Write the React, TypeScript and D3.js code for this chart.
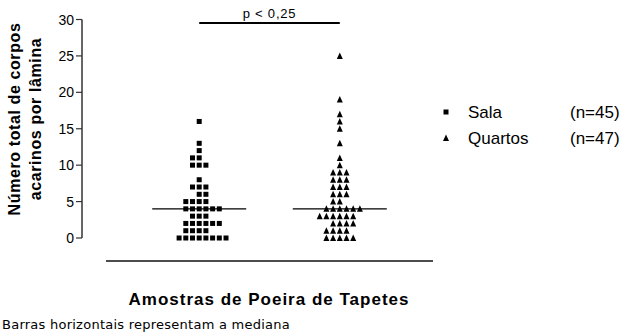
import React from 'react';
import * as d3 from 'd3';

// counts of mite bodies per slide
const salaValues = [
  0, 0, 0, 0, 0, 0, 0, 0,
  1, 1, 1, 1,
  2, 2, 2, 2, 2, 2,
  3, 3, 3,
  4, 4, 4, 4, 4, 4,
  5, 5, 5, 5,
  6, 6,
  7, 7, 7,
  8,
  10, 10, 10,
  11, 11,
  12,
  13,
  16,
];
const quartosValues = [
  0, 0, 0, 0, 0,
  1, 1, 1, 1,
  2, 2, 2, 2,
  3, 3, 3, 3, 3, 3,
  4, 4, 4, 4, 4, 4,
  5, 5,
  6, 6, 6,
  7, 7, 7,
  8, 8, 8,
  9, 9, 9,
  10, 11, 13, 15, 16, 17, 19, 25,
];
const groups = ['Sala', 'Quartos'];
const groupCounts = ['(n=45)', '(n=47)'];
const yTicks = [0, 5, 10, 15, 20, 25, 30];
const pLabel = 'p < 0,25';

const W = 627;
const H = 334;
const SPACING = 6.7;
const FONT = '"Liberation Sans", Arial, sans-serif';

const y = d3.scaleLinear().domain([0, 30]).range([238, 19.5]);
const x = d3.scalePoint().domain(groups).range([106, 433]).padding(0.663);

// Prism-like column scatter: stack equal values side by side
const layout = (values: number[]) => {
  const byValue = d3.group(values, v => v);
  const pts: { v: number; dx: number }[] = [];
  byValue.forEach((arr, v) => {
    const n = arr.length;
    const shift = n % 2 === 0 ? (v % 2 === 0 ? 0.5 : -0.5) : 0;
    arr.forEach((_, i) => {
      pts.push({ v, dx: (i - (n - 1) / 2 + shift) * SPACING });
    });
  });
  return pts;
};

const Square = ({ cx, cy, s = 5 }: { cx: number; cy: number; s?: number }) => (
  <rect x={cx - s / 2} y={cy - s / 2} width={s} height={s} fill="#000" />
);

const Triangle = ({ cx, cy, s = 6 }: { cx: number; cy: number; s?: number }) => (
  <path
    d={`M${cx},${cy - s / 2 - 0.5} L${cx + s / 2},${cy + s / 2} L${cx - s / 2},${cy + s / 2} Z`}
    fill="#000"
  />
);

export default function App() {
  const series = [salaValues, quartosValues];
  const axisX = 82;
  const sigY = 23;
  const legendY = [112, 138];

  return (
    <svg
      width={W}
      height={H}
      style={{ position: 'absolute', left: 0, top: 0, background: '#fff' }}
      fontFamily={FONT}
    >
      {/* y axis */}
      <line x1={axisX} x2={axisX} y1={y(30)} y2={y(0)} stroke="#333" strokeWidth={1.5} />
      {yTicks.map(t => (
        <g key={t} transform={`translate(0,${y(t)})`}>
          <line x1={axisX - 6} x2={axisX} stroke="#333" strokeWidth={1.2} />
          <text x={axisX - 8} dy="0.36em" textAnchor="end" fontSize={14}>
            {t}
          </text>
        </g>
      ))}
      <text
        transform="translate(20,119) rotate(-90)"
        textAnchor="middle"
        fontSize={16}
        fontWeight="bold"
        letterSpacing={0.6}
      >
        <tspan x={0} y={0}>Número total de corpos</tspan>
        <tspan x={0} y={21}>acarinos por lâmina</tspan>
      </text>

      {/* x axis */}
      <line x1={106} x2={433} y1={261} y2={261} stroke="#111" strokeWidth={1.5} />

      {/* points */}
      {series.map((vals, gi) => {
        const cx = x(groups[gi]) as number;
        const med = y(d3.median(vals) as number);
        return (
          <g key={groups[gi]}>
            {layout(vals).map((p, i) =>
              gi === 0 ? (
                <Square key={i} cx={cx + p.dx} cy={y(p.v)} />
              ) : (
                <Triangle key={i} cx={cx + p.dx} cy={y(p.v)} />
              )
            )}
            <line x1={cx - 47} x2={cx + 47} y1={med} y2={med} stroke="#000" strokeWidth={1.3} />
          </g>
        );
      })}

      {/* significance bar */}
      <line
        x1={x(groups[0]) as number}
        x2={x(groups[1]) as number}
        y1={sigY}
        y2={sigY}
        stroke="#000"
        strokeWidth={2}
      />
      <text
        x={((x(groups[0]) as number) + (x(groups[1]) as number)) / 2}
        y={sigY - 5}
        textAnchor="middle"
        fontSize={13}
        letterSpacing={0.8}
      >
        {pLabel}
      </text>

      {/* legend */}
      {groups.map((g, i) => (
        <g key={g}>
          {i === 0 ? (
            <Square cx={446} cy={legendY[i]} s={5} />
          ) : (
            <Triangle cx={446} cy={legendY[i]} s={6} />
          )}
          <text x={468} y={legendY[i]} dy="0.36em" fontSize={17}>
            {g}
          </text>
          <text x={570} y={legendY[i]} dy="0.36em" fontSize={17}>
            {groupCounts[i]}
          </text>
        </g>
      ))}

      {/* titles */}
      <text x={269} y={305} textAnchor="middle" fontSize={17} fontWeight="bold" letterSpacing={1}>
        Amostras de Poeira de Tapetes
      </text>
      <text
        x={2}
        y={329}
        fontSize={13}
        letterSpacing={0.25}
        fontFamily='"DejaVu Sans", sans-serif'
      >
        Barras horizontais representam a mediana
      </text>
    </svg>
  );
}
